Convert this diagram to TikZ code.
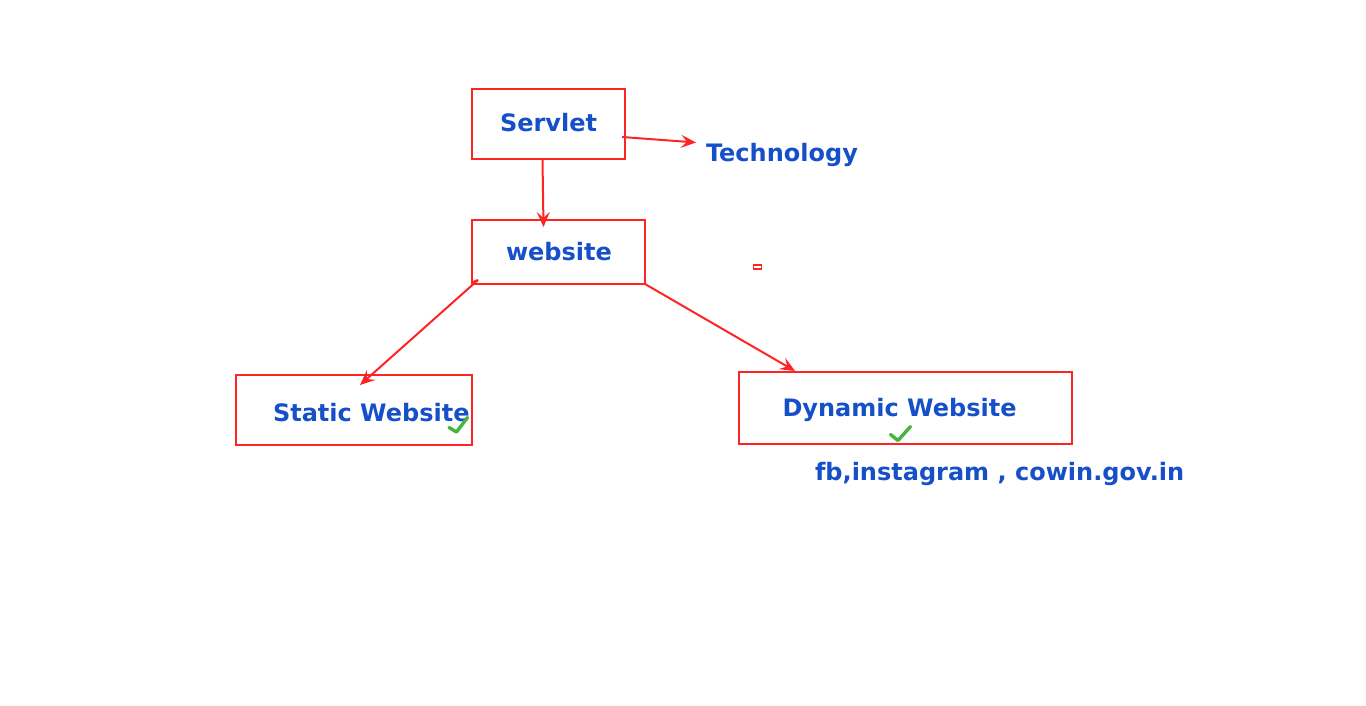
\documentclass[tikz,border=0pt]{standalone}
\usepackage{fontspec}
\setmainfont{DejaVu Sans}
\usetikzlibrary{arrows.meta,calc}
\definecolor{boxred}{RGB}{255,36,36}
\definecolor{txtblue}{RGB}{22,80,200}
\definecolor{chkgreen}{RGB}{72,180,64}
\tikzset{
  box/.style={draw=boxred,line width=2.2pt,minimum width=#1,inner sep=0pt,outer sep=0pt},
  lbl/.style={text=txtblue,font=\fontsize{24}{29}\selectfont\bfseries,inner sep=0pt,outer sep=0pt,anchor=base west},
  arr/.style={draw=boxred,line width=2pt,-{Stealth[length=15pt,width=13pt,inset=6pt]}},
  chk/.style={draw=chkgreen,line width=3.4pt,line cap=round,line join=round},
}
\begin{document}
\begin{tikzpicture}[x=1pt,y=-1pt]
\useasboundingbox (0,0) rectangle (1366,706);
% boxes
\node[box=153pt,minimum height=70pt] (servlet) at (548.5,124) {};
\node[box=173pt,minimum height=64pt] (website) at (558.5,252) {};
\node[box=236pt,minimum height=70pt] (static) at (354,410) {};
\node[box=333pt,minimum height=72pt] (dynamic) at (905.5,408) {};
\node[box=8pt,minimum height=4pt,line width=1.8pt] (dot) at (757.5,267) {};
% texts
\node[lbl] (tservlet) at (500,132) {Servlet};
\node[lbl] (ttech) at (706,162) {Technology};
\node[lbl] (twebsite) at (506,260) {website};
\node[lbl] (tstatic) at (273,421.5) {Static Website};
\node[lbl] (tdynamic) at (782.5,416.5) {Dynamic Website};
\node[lbl] (texamples) at (815,480) {fb,instagram , cowin.gov.in};
% arrow ends
\coordinate (techtip) at (696,142.5);
\coordinate (webtip) at (543.5,227);
\coordinate (stattip) at (360,385);
\coordinate (dyntip) at (795,371);
% connectors
\draw[arr] ($(servlet.east)+(-3,13)$) -- (techtip);
\draw[arr] ($(servlet.south)+(-6,1)$) -- (webtip);
\draw[boxred,line width=2pt] ($(website.south west)+(1,-2)$) -- ($(website.south west)+(6,-4)$);
\draw[arr] ($(website.south west)+(6,-4)$) -- (stattip);
\draw[arr] (website.south east) -- (dyntip);
% check marks
\draw[chk] (449,427.5) -- (456.5,432) -- (467.5,417.5);
\draw[chk] (890.5,434.5) -- (898,440.5) -- (910.5,426.5);
\end{tikzpicture}
\end{document}
